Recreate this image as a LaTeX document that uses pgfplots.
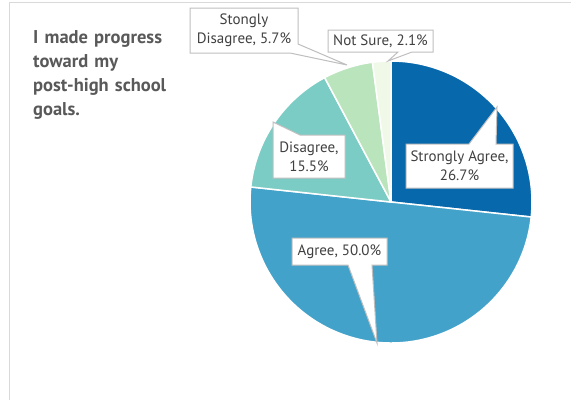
\documentclass[border=0pt]{standalone}
\usepackage{pgfplots}
\pgfplotsset{compat=1.18}
\usepackage{fontspec}
\setmainfont{PT Sans}

\definecolor{cSA}{HTML}{0868AC}
\definecolor{cA}{HTML}{43A2CA}
\definecolor{cD}{HTML}{7BCCC4}
\definecolor{cSD}{HTML}{BAE4BC}
\definecolor{cNS}{HTML}{F0F9E8}
\definecolor{framegray}{HTML}{D9D9D9}
\definecolor{boxgray}{HTML}{BFBFBF}
\definecolor{txt}{HTML}{404040}
\definecolor{ttl}{HTML}{595959}

\tikzset{
  callout/.style={fill=white, draw=boxgray, line width=1bp, line join=miter},
  lbl/.style={text=txt, align=center, inner sep=0pt, font=\fontsize{15bp}{19bp}\selectfont},
}

\begin{document}
\begin{tikzpicture}
\begin{axis}[
    width=571bp, height=400bp, scale only axis,
    xmin=0, xmax=571, ymin=0, ymax=400,
    y dir=reverse,
    hide axis, clip=false,
]
% chart frame (only top and left edges visible)
\draw[framegray, line width=1bp] (9.5,400) -- (9.5,2.5) -- (571,2.5);

% title
\node[anchor=north west, inner sep=0pt, text width=170bp, align=left, text=ttl,
      font=\fontsize{18.5bp}{24bp}\selectfont\bfseries] at (33,30)
  {I made progress\\toward my\\post-high school\\goals.};

% pie: shares in percent, clockwise from 12 o'clock
\gdef\angA{90}
\foreach \v/\c in {26.7/cSA, 50.0/cA, 15.5/cD, 5.7/cSD, 2.1/cNS} {
  \pgfmathsetmacro\s{\angA}
  \pgfmathsetmacro\e{\angA-3.6*\v}
  \xdef\angA{\e}
  \edef\temp{\noexpand\fill[\c, draw=white, line width=1.5bp, line join=round]
    (391,202) -- ++(\s:141bp) arc[start angle=\s, end angle=\e, radius=141bp] -- cycle;}
  \temp
}

% callouts
\path[callout] (406,144) -- (469,144) -- (497,107) -- (496,144) -- (513,144)
  -- (513,188) -- (406,188) -- cycle;
\node[lbl] at (459.5,166) {Strongly Agree,\\26.7\%};

\path[callout] (292,238) -- (387,238) -- (387,265) -- (372,265) -- (377,343)
  -- (348,265) -- (292,265) -- cycle;
\node[lbl] at (339.5,251.5) {Agree, 50.0\%};

\path[callout] (273,122) -- (300,135) -- (345,135) -- (345,178) -- (273,178) -- cycle;
\node[lbl] at (309,156.5) {Disagree,\\15.5\%};

\path[callout] (190,8) -- (298,8) -- (298,44) -- (347,65) -- (290,53)
  -- (190,53) -- cycle;
\node[lbl] at (244,30.5) {Stongly\\Disagree, 5.7\%};

\path[callout] (328,30) -- (433,30) -- (433,52) -- (412,52) -- (388,61)
  -- (398,52) -- (328,52) -- cycle;
\node[lbl] at (380.5,41) {Not Sure, 2.1\%};
\end{axis}
\pgfresetboundingbox
\useasboundingbox (0,0) rectangle (571bp,400bp);
\end{tikzpicture}
\end{document}
